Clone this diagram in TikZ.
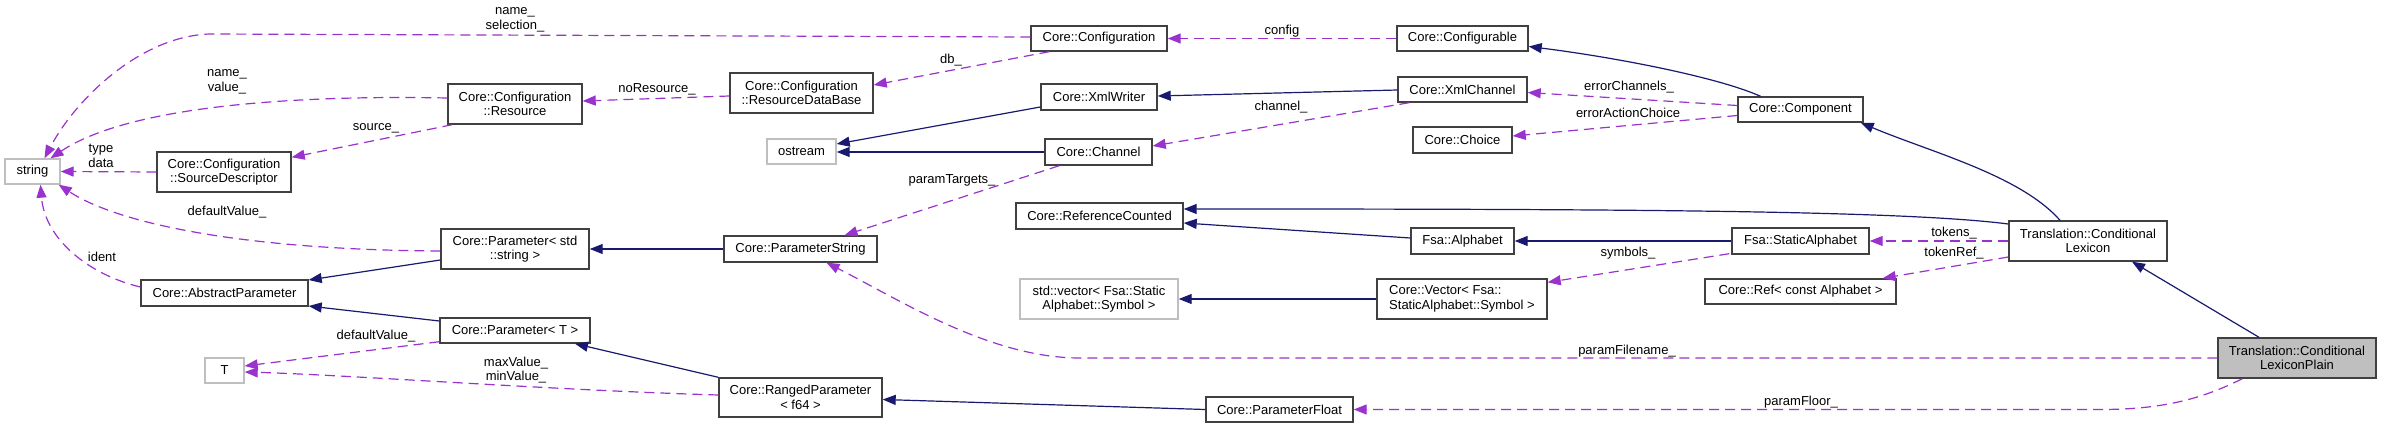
\documentclass[tikz,border=0pt]{standalone}
\usepackage{fontspec}
\setmainfont{Liberation Sans}
\usetikzlibrary{arrows.meta,calc}
\definecolor{inhcol}{HTML}{191970}
\definecolor{usecol}{HTML}{9A32CD}
\definecolor{graybd}{HTML}{BFBFBF}
\definecolor{boxbd}{HTML}{404040}
\definecolor{selfill}{HTML}{BFBFBF}
\begin{document}
\begin{tikzpicture}[x=1pt,y=-1pt,font=\fontsize{13}{14.5}\selectfont,
  cls/.style={draw=boxbd,line width=1.4pt,fill=white,inner sep=0pt,align=center,text=black},
  ext/.style={cls,draw=graybd},
  inh/.style={draw=inhcol,line width=1.2pt,-{Triangle[length=13pt,width=10pt]}},
  use/.style={draw=usecol,line width=1.2pt,dash pattern=on 10pt off 6pt,-{Triangle[length=13pt,width=10pt]}},
  lbl/.style={align=center,inner sep=0pt,text=black}]
\fill[white] (0,0) rectangle (2381,428);
\useasboundingbox (0,0) rectangle (2381,428);
% nodes
\node[ext,minimum width=55pt,minimum height=25pt] (str) at (32.5,171.5) {string};
\node[cls,minimum width=134pt,minimum height=40pt] (sd) at (224,172) {Core::Configuration\\::SourceDescriptor};
\node[cls,minimum width=134pt,minimum height=40pt] (res) at (515,104) {Core::Configuration\\::Resource};
\node[cls,minimum width=143pt,minimum height=40pt] (rdb) at (801.5,93) {Core::Configuration\\::ResourceDataBase};
\node[cls,minimum width=136pt,minimum height=25pt] (cfg) at (1099,38.5) {Core::Configuration};
\node[cls,minimum width=131pt,minimum height=25pt] (cfgable) at (1462.5,38.5) {Core::Configurable};
\node[cls,minimum width=116pt,minimum height=26pt] (xw) at (1099,97) {Core::XmlWriter};
\node[cls,minimum width=129pt,minimum height=25pt] (xch) at (1462.5,89.5) {Core::XmlChannel};
\node[ext,minimum width=69pt,minimum height=25pt] (ostr) at (801.5,151.5) {ostream};
\node[cls,minimum width=107pt,minimum height=26pt] (chan) at (1098.5,152) {Core::Channel};
\node[cls,minimum width=99pt,minimum height=26pt] (choice) at (1462.5,140) {Core::Choice};
\node[cls,minimum width=125pt,minimum height=25pt] (comp) at (1800.5,109.5) {Core::Component};
\node[cls,minimum width=167pt,minimum height=26pt] (rc) at (1099.5,216) {Core::ReferenceCounted};
\node[cls,minimum width=153pt,minimum height=26pt] (ps) at (800.5,249) {Core::ParameterString};
\node[cls,minimum width=103pt,minimum height=26pt] (alph) at (1462.5,241) {Fsa::Alphabet};
\node[cls,minimum width=137pt,minimum height=26pt] (sa) at (1800.5,241) {Fsa::StaticAlphabet};
\node[cls,minimum width=158pt,minimum height=40pt] (cl) at (2088,241) {Translation::Conditional\\Lexicon};
\node[cls,minimum width=191pt,minimum height=25pt] (ref) at (1800.5,291.5) {Core::Ref< const Alphabet >};
\node[ext,minimum width=158pt,minimum height=40pt] (sv) at (1099,299) {std::vector< Fsa::Static\\Alphabet::Symbol >};
\node[cls,minimum width=170pt,minimum height=40pt,align=left] (cv) at (1462,299) {Core::Vector< Fsa::\\StaticAlphabet::Symbol >};
\node[cls,minimum width=148pt,minimum height=40pt] (pstd) at (515,249) {Core::Parameter< std\\::string >};
\node[cls,minimum width=167pt,minimum height=26pt] (ap) at (224.5,293) {Core::AbstractParameter};
\node[cls,minimum width=150pt,minimum height=25pt] (pt) at (515,330.5) {Core::Parameter< T >};
\node[ext,minimum width=39pt,minimum height=25pt] (t) at (224.5,370.5) {T};
\node[cls,minimum width=163pt,minimum height=39pt] (rp) at (800.5,397.5) {Core::RangedParameter\\< f64 >};
\node[cls,minimum width=147pt,minimum height=25pt] (pf) at (1279.5,409.5) {Core::ParameterFloat};
\node[cls,fill=selfill,minimum width=158pt,minimum height=40pt] (plain) at (2297,358) {Translation::Conditional\\LexiconPlain};
% inheritance
\draw[inh] ($(comp.north)+(-40,0)$) .. controls (1720,78) and (1620,58) .. ($(cfgable.east)+(0,8)$);
\draw[inh] ($(cl.north)+(-28,0)$) .. controls (2020,175) and (1930,152) .. ($(comp.south east)+(-3,0)$);
\draw[inh] ($(plain.north)+(-38,0)$) -- ($(cl.south)+(44,0)$);
\draw[inh] ($(cl.west)+(0,-17)$) .. controls (1900,210) and (1600,209) .. ($(rc.east)+(0,-7)$);
\draw[inh] ($(alph.west)+(0,-3)$) -- ($(rc.east)+(0,7)$);
\draw[inh] (sa.west) -- (alph.east);
\draw[inh] ($(xch.west)+(0,0.5)$) -- ($(xw.east)+(0,-1)$);
\draw[inh] ($(xw.west)+(0,10)$) -- ($(ostr.east)+(0,-7.5)$);
\draw[inh] (chan.west) -- ($(ostr.east)+(0,0.5)$);
\draw[inh] (ps.west) -- (pstd.east);
\draw[inh] ($(pstd.west)+(0,11)$) -- ($(ap.east)+(0,-13)$);
\draw[inh] ($(pt.west)+(0,-9.5)$) -- ($(ap.east)+(0,13)$);
\draw[inh] (rp.north west) -- ($(pt.south)+(60,0)$);
\draw[inh] (pf.west) -- ($(rp.east)+(0,2)$);
\draw[inh] (cv.west) -- (sv.east);
% usage
\draw[use] ($(cfg.west)+(0,-1.5)$) -- (210,34) .. controls (140,36) and (75,100) .. ($(str.north)+(12,0)$);
\draw[use] ($(res.west)+(0,-6)$) .. controls (300,95) and (130,105) .. ($(str.north)+(18,0)$);
\draw[use] (sd.west) -- (str.east);
\draw[use] ($(pstd.west)+(0,2)$) .. controls (250,250) and (120,225) .. ($(str.south east)+(-2,0)$);
\draw[use] ($(ap.west)+(0,-6)$) .. controls (90,275) and (45,240) .. ($(str.south)+(8,0)$);
\draw[use] ($(res.south west)+(5,0)$) -- ($(sd.north east)+(0,6)$);
\draw[use] ($(rdb.west)+(0,3)$) -- ($(res.east)+(0,-3)$);
\draw[use] ($(cfg.south west)+(19,0)$) -- ($(rdb.east)+(0,-8)$);
\draw[use] (cfgable.west) -- (cfg.east);
\draw[use] ($(comp.west)+(0,-4)$) -- ($(xch.east)+(0,3)$);
\draw[use] ($(comp.west)+(0,6)$) -- ($(choice.east)+(0,-4)$);
\draw[use] ($(xch.south west)+(12,0)$) -- ($(chan.east)+(0,-6)$);
\draw[use] ($(chan.south west)+(15,0)$) -- ($(ps.north)+(44,0)$);
\draw[use] (cl.west) -- (sa.east);
\draw[use] ($(cl.west)+(0,16)$) -- ($(ref.north east)+(-14,0)$);
\draw[use] ($(sa.south west)+(-2,-1)$) -- ($(cv.north east)+(0,4)$);
\draw[use] (plain.west) -- (1080,358) .. controls (990,358) and (900,300) .. ($(ps.south)+(26,0)$);
\draw[use] ($(plain.south west)+(25,0)$) .. controls (2200,400) and (2160,409.5) .. (2100,409.5) -- (pf.east);
\draw[use] ($(pt.south west)+(0,-2)$) -- ($(t.east)+(0,-4.5)$);
\draw[use] ($(rp.west)+(0,-2.5)$) .. controls (550,390) and (350,375) .. ($(t.east)+(0,1.5)$);
% labels
\node[lbl] (l1) at (515,20) {name\_\\selection\_};
\node[lbl] (l2) at (227,82) {name\_\\value\_};
\node[lbl] (l3) at (376,128) {source\_};
\node[lbl] (l4) at (657,89) {noResource\_};
\node[lbl] (l5) at (101,156) {type\\data};
\node[lbl] (l6) at (227,212) {defaultValue\_};
\node[lbl] (l7) at (102,257) {ident};
\node[lbl] (l8) at (376,336) {defaultValue\_};
\node[lbl] (l9) at (516,370) {maxValue\_\\minValue\_};
\node[lbl] (l10) at (951,60) {db\_};
\node[lbl] (l11) at (1282,31) {config};
\node[lbl] (l12) at (1281,107) {channel\_};
\node[lbl] (l13) at (952,180) {paramTargets\_};
\node[lbl] (l14) at (1629,87) {errorChannels\_};
\node[lbl] (l15) at (1628,113) {errorActionChoice};
\node[lbl] (l16) at (1954,233) {tokens\_};
\node[lbl] (l17) at (1954,253) {tokenRef\_};
\node[lbl] (l18) at (1628,253) {symbols\_};
\node[lbl] (l19) at (1627,351) {paramFilename\_};
\node[lbl] (l20) at (1801,402) {paramFloor\_};
\end{tikzpicture}
\end{document}
